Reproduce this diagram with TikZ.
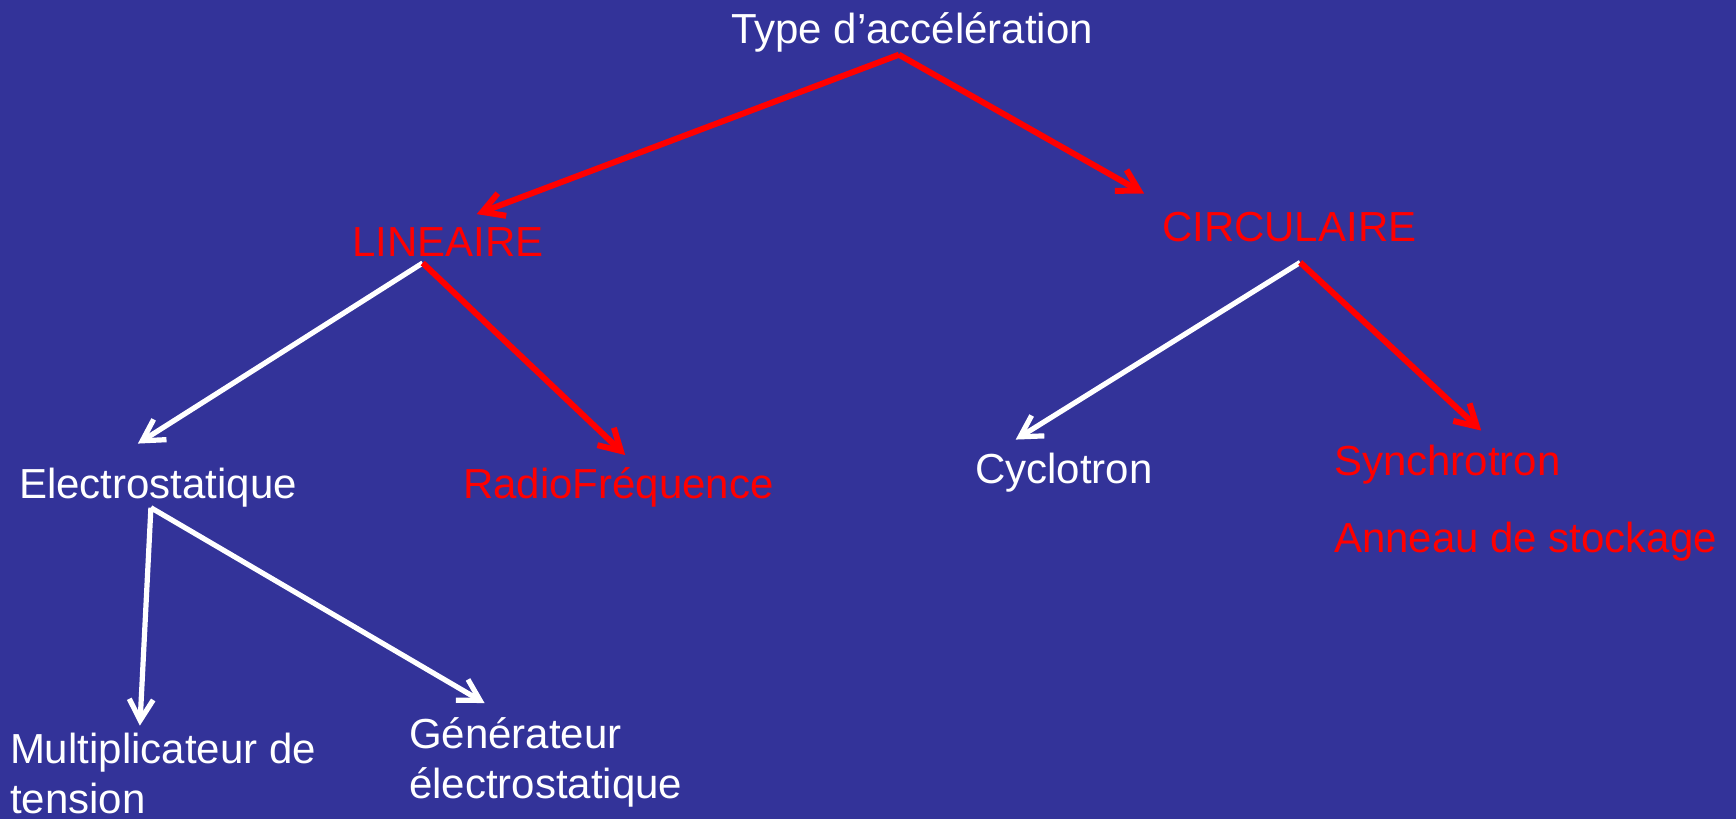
\documentclass[tikz,border=0pt]{standalone}
\usepackage{fontspec}
\setmainfont{Liberation Sans}
\usetikzlibrary{arrows.meta,calc}
\definecolor{bgblue}{RGB}{51,51,153}
\definecolor{arrred}{RGB}{255,0,0}
\begin{document}
\begin{tikzpicture}[x=1pt,y=-1pt,
  lbl/.style={inner sep=0pt,outer sep=0pt,anchor=base west,font=\fontsize{42}{50}\selectfont,align=left},
  wlbl/.style={lbl,text=white},
  rlbl/.style={lbl,text=arrred},
  conn/.style={line width=6pt,-{Straight Barb[length=21pt,width=24pt]}},
  redconn/.style={conn,draw=arrred},
  whiteconn/.style={conn,draw=white,line width=5.2pt}]
\fill[bgblue] (0,0) rectangle (1736,819);
\useasboundingbox (0,0) rectangle (1736,819);
\node[wlbl] (title) at (731,43) {Type d’accélération};
\node[rlbl] (lin) at (352,256) {LINEAIRE};
\node[rlbl] (circ) at (1162,241) {CIRCULAIRE};
\node[wlbl] (elec) at (19,498) {Electrostatique};
\node[rlbl] (radio) at (463,498) {RadioFréquence};
\node[wlbl] (cyc) at (975,483) {Cyclotron};
\node[rlbl] (syn) at (1334,475) {Synchrotron};
\node[rlbl] (ann) at (1334,552) {Anneau de stockage};
\node[wlbl] (mult) at (10,813) {Multiplicateur de\\tension};
\node[wlbl] (gen) at (409,798) {Générateur\\électrostatique};
% connectors
\draw[redconn] ($(title.south)+(-13,3)$) -- ($(lin.north)+(29,-13)$);
\draw[redconn] ($(title.south)+(-13,3)$) -- ($(circ.north)+(-145,-18)$);
\draw[whiteconn] ($(lin.south)+(-25,7)$) -- ($(elec.north)+(-20,-24)$);
\draw[redconn] ($(lin.south)+(-25,7)$) -- ($(radio.north)+(7,-12)$);
\draw[whiteconn] ($(circ.south)+(11,21)$) -- ($(cyc.north)+(-48,-13)$);
\draw[redconn] ($(circ.south)+(11,21)$) -- ($(syn.north)+(34,-14)$);
\draw[whiteconn] ($(elec.south)+(-7,1)$) -- ($(mult.north)+(-23,-7)$);
\draw[whiteconn] ($(elec.south)+(-7,1)$) -- ($(gen.north)+(-61,-14)$);
\end{tikzpicture}
\end{document}
